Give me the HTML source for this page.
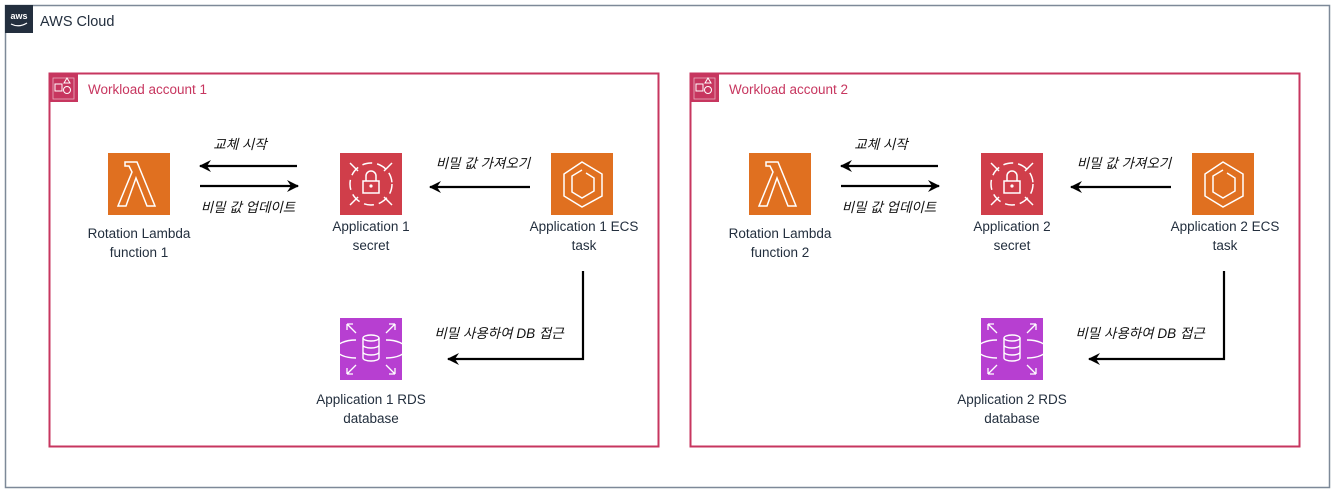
<!DOCTYPE html>
<html><head><meta charset="utf-8"><style>
html,body{margin:0;padding:0;background:#fff;}
svg{display:block;}
text{font-family:"Liberation Sans","Noto Sans CJK KR",sans-serif;}
.lbl{font-size:13.5px;fill:#232f3e;text-anchor:middle;}
.k{font-size:13.5px;fill:#111;text-anchor:middle;font-style:italic;}
</style></head><body>
<svg width="1336" height="492" viewBox="0 0 1336 492" xmlns="http://www.w3.org/2000/svg">
<defs>
<marker id="ah" markerWidth="14" markerHeight="14" refX="11" refY="6" orient="auto" markerUnits="userSpaceOnUse">
<path d="M0,0 L12,6 L0,12 L4,6 Z" fill="#000"/></marker>
<g id="acct">
  <rect x="49.5" y="73.5" width="609" height="373" fill="none" stroke="#c7365f" stroke-width="2"/>
  <rect x="49" y="73" width="29" height="29" fill="#c7365f"/>
  <rect x="55" y="84" width="7" height="7" fill="none" stroke="#fff" stroke-width="1"/>
  <path d="M67 78 L70 83 L64 83 Z" fill="none" stroke="#fff" stroke-width="1"/>
  <circle cx="67" cy="90" r="3.5" fill="none" stroke="#fff" stroke-width="1"/>
  <rect x="53" y="78" width="21" height="21" fill="none" stroke="#fff" stroke-width="0.8" opacity="0.6"/>
  <!-- lambda -->
  <rect x="108" y="153" width="62" height="62" fill="#e07020"/>
  <path d="M125 162 L137 162 L155 206 L147 206 L136 178 L126 206 L118 206 L132 172 L129 166 L125 166 Z" fill="none" stroke="#fff" stroke-width="1.5"/>
  <!-- secret -->
  <rect x="340" y="153" width="62" height="62" fill="#d03e4a"/>
  <circle cx="371" cy="184" r="21" fill="none" stroke="#fff" stroke-width="1.5" stroke-dasharray="10 5"/>
  <line x1="350" y1="163" x2="358" y2="171" stroke="#fff" stroke-width="1.5"/>
  <line x1="392" y1="163" x2="384" y2="171" stroke="#fff" stroke-width="1.5"/>
  <line x1="350" y1="205" x2="358" y2="197" stroke="#fff" stroke-width="1.5"/>
  <line x1="392" y1="205" x2="384" y2="197" stroke="#fff" stroke-width="1.5"/>
  <rect x="363" y="181" width="16" height="12" fill="none" stroke="#fff" stroke-width="1.5"/>
  <path d="M366 181 V176 A5 5 0 0 1 376 176 V181" fill="none" stroke="#fff" stroke-width="1.5"/>
  <circle cx="371" cy="186" r="1.6" fill="#fff"/>
  <!-- ecs -->
  <rect x="551" y="153" width="62" height="62" fill="#e07020"/>
  <path d="M582 162 L602 174 L602 196 L582 207 L564 196 L564 174 Z M582 170 L572 176 L572 192 L582 198 L594 191 L594 178 L586 173" fill="none" stroke="#fff" stroke-width="1.5"/>
  <!-- rds -->
  <rect x="340" y="318" width="62" height="62" fill="#b73fd1"/>
  <ellipse cx="371" cy="338" rx="8" ry="3" fill="none" stroke="#fff" stroke-width="1.4"/>
  <path d="M363 338 V358 A8 3 0 0 0 379 358 V338 M363 345 A8 3 0 0 0 379 345 M363 352 A8 3 0 0 0 379 352" fill="none" stroke="#fff" stroke-width="1.4"/>
  <path d="M356 340 A20 9 0 0 0 356 358 M386 340 A20 9 0 0 1 386 358" fill="none" stroke="#fff" stroke-width="1.4"/>
  <path d="M347 324 L356 333 M347 324 H353 M347 324 V330 M395 324 L386 333 M395 324 H389 M395 324 V330 M347 374 L356 365 M347 374 H353 M347 374 V368 M395 374 L386 365 M395 374 H389 M395 374 V368" fill="none" stroke="#fff" stroke-width="1.3"/>
  <!-- arrows -->
  <line x1="297" y1="166" x2="200" y2="166" stroke="#000" stroke-width="2.2" marker-end="url(#ah)"/>
  <line x1="200" y1="186" x2="298" y2="186" stroke="#000" stroke-width="2.2" marker-end="url(#ah)"/>
  <line x1="530" y1="187" x2="430" y2="187" stroke="#000" stroke-width="2.2" marker-end="url(#ah)"/>
  <path d="M583 271 V359 H448" fill="none" stroke="#000" stroke-width="2.2" marker-end="url(#ah)"/>
  <text class="k" x="240" y="149">교체 시작</text>
  <text class="k" x="248" y="212">비밀 값 업데이트</text>
  <text class="k" x="483" y="168">비밀 값 가져오기</text>
  <text class="k" x="499" y="338">비밀 사용하여 DB 접근</text>
</g>
</defs>
<rect x="5.5" y="5.5" width="1324" height="482" fill="none" stroke="#7d8998" stroke-width="1.5"/>
<rect x="5" y="5" width="28" height="28" fill="#232f3e"/>
<text x="19" y="19" font-size="9" fill="#fff" text-anchor="middle" style="font-weight:bold">aws</text>
<path d="M11 24 Q19 28 27 23" fill="none" stroke="#fff" stroke-width="1.2"/>
<text x="40" y="26" font-size="14.5" fill="#232f3e">AWS Cloud</text>

<use href="#acct"/>
<text x="88" y="94" font-size="13.5" fill="#c7365f">Workload account 1</text>
<text class="lbl" x="139" y="238">Rotation Lambda</text>
<text class="lbl" x="139" y="257">function 1</text>
<text class="lbl" x="371" y="231">Application 1</text>
<text class="lbl" x="371" y="250">secret</text>
<text class="lbl" x="584" y="231">Application 1 ECS</text>
<text class="lbl" x="584" y="250">task</text>
<text class="lbl" x="371" y="404">Application 1 RDS</text>
<text class="lbl" x="371" y="423">database</text>

<use href="#acct" x="641"/>
<text x="729" y="94" font-size="13.5" fill="#c7365f">Workload account 2</text>
<text class="lbl" x="780" y="238">Rotation Lambda</text>
<text class="lbl" x="780" y="257">function 2</text>
<text class="lbl" x="1012" y="231">Application 2</text>
<text class="lbl" x="1012" y="250">secret</text>
<text class="lbl" x="1225" y="231">Application 2 ECS</text>
<text class="lbl" x="1225" y="250">task</text>
<text class="lbl" x="1012" y="404">Application 2 RDS</text>
<text class="lbl" x="1012" y="423">database</text>
</svg>
</body></html>
